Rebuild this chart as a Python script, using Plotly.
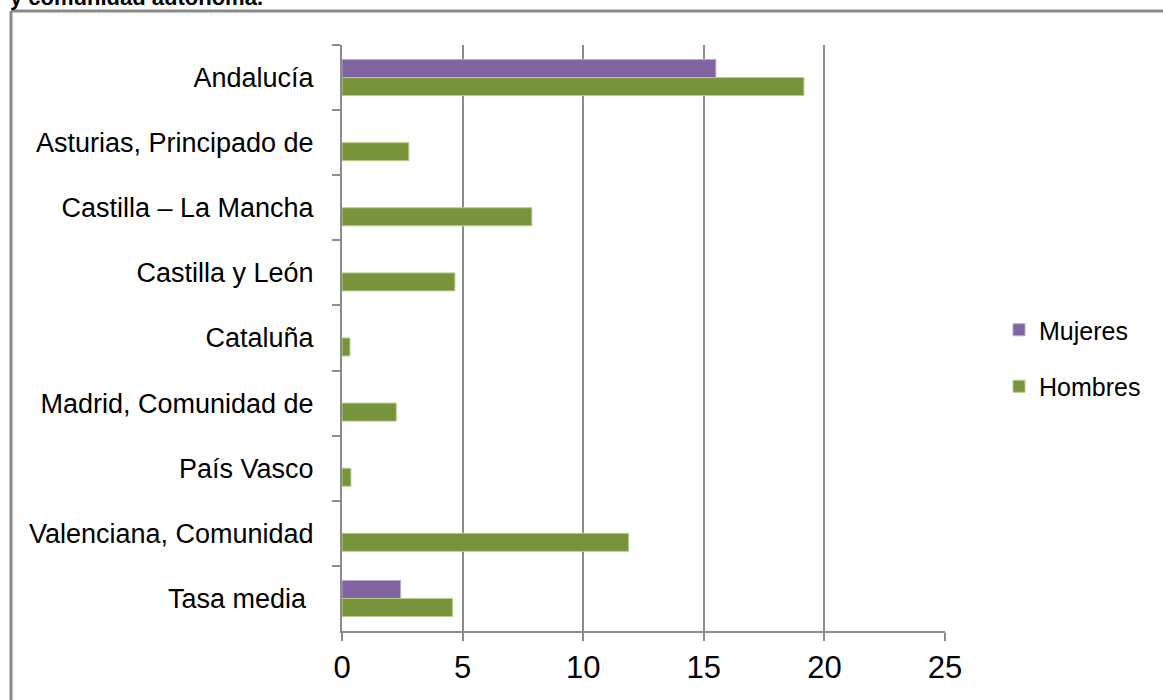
import plotly.graph_objects as go

categories = ["Andalucía", "Asturias, Principado de", "Castilla – La Mancha",
              "Castilla y León", "Cataluña", "Madrid, Comunidad de",
              "País Vasco", "Valenciana, Comunidad", "Tasa media\u00a0"]
mujeres = [15.5, None, None, None, None, None, None, None, 2.43]
hombres = [19.15, 2.77, 7.87, 4.68, 0.33, 2.25, 0.37, 11.88, 4.58]
x_ticks = [0, 5, 10, 15, 20, 25]
title_text = "y comunidad autónoma."

W, H = 1163, 700
L, R, T, B = 342, 218, 45, 69
pw, ph = W - L - R, H - T - B

def px(x):
    return (x - L) / pw

def py(y):
    return (H - B - y) / ph

FONT = "Liberation Sans Narrow, Arial Narrow, Liberation Sans, Arial"

fig = go.Figure()
fig.add_trace(go.Bar(y=categories, x=mujeres, name="Mujeres", orientation="h",
                     marker=dict(color="#8064A2", line=dict(color="#b9a9cf", width=1)),
                     legendgroup="m"))
fig.add_trace(go.Bar(y=categories, x=hombres, name="Hombres", orientation="h",
                     marker=dict(color="#77933C", line=dict(color="#b7cc8e", width=1)),
                     legendgroup="h"))

fig.update_layout(
    width=W, height=H,
    margin=dict(l=L, r=R, t=T, b=B, autoexpand=False),
    paper_bgcolor="white", plot_bgcolor="white",
    barmode="group", bargap=0.447, bargroupgap=0,
    font=dict(family=FONT, color="black"),
    showlegend=True,
    legend=dict(x=px(999), y=py(358), xanchor="left", yanchor="middle",
                font=dict(family="Liberation Sans, Arial", size=25),
                tracegroupgap=21, traceorder="grouped",
                itemwidth=30, bgcolor="rgba(0,0,0,0)"),
    xaxis=dict(range=[0, 25], tickvals=x_ticks, showgrid=True, gridcolor="#8c8c8c",
               gridwidth=2, showline=True, linecolor="#8c8c8c", linewidth=2,
               ticks="outside", ticklen=8, tickwidth=2, tickcolor="#8c8c8c",
               tickfont=dict(family=FONT, size=31), ticklabelstandoff=0,
               zeroline=False, fixedrange=True),
    yaxis=dict(autorange="reversed", type="category", showgrid=False, showline=True,
               linecolor="#8c8c8c", linewidth=2, ticks="outside", ticklen=8,
               tickwidth=2, tickcolor="#8c8c8c", tickson="boundaries",
               tickfont=dict(family="Liberation Sans, Arial", size=27),
               ticklabelstandoff=21, fixedrange=True),
    shapes=[
        dict(type="line", xref="paper", yref="paper", x0=px(11), x1=px(1200),
             y0=py(11), y1=py(11), line=dict(color="#8a8a8a", width=3)),
        dict(type="line", xref="paper", yref="paper", x0=px(11), x1=px(11),
             y0=py(11), y1=py(720), line=dict(color="#8a8a8a", width=3)),
    ],
    annotations=[
        dict(text="<b>" + title_text + "</b>", xref="paper", yref="paper",
             x=px(8), y=py(12), xanchor="left", yanchor="bottom", showarrow=False,
             font=dict(family="Liberation Sans, Arial", size=22, color="black")),
    ],
)

fig.write_html("out.html", config={"displayModeBar": False},
               post_script="document.body.style.margin='0';document.body.style.overflow='hidden';")
